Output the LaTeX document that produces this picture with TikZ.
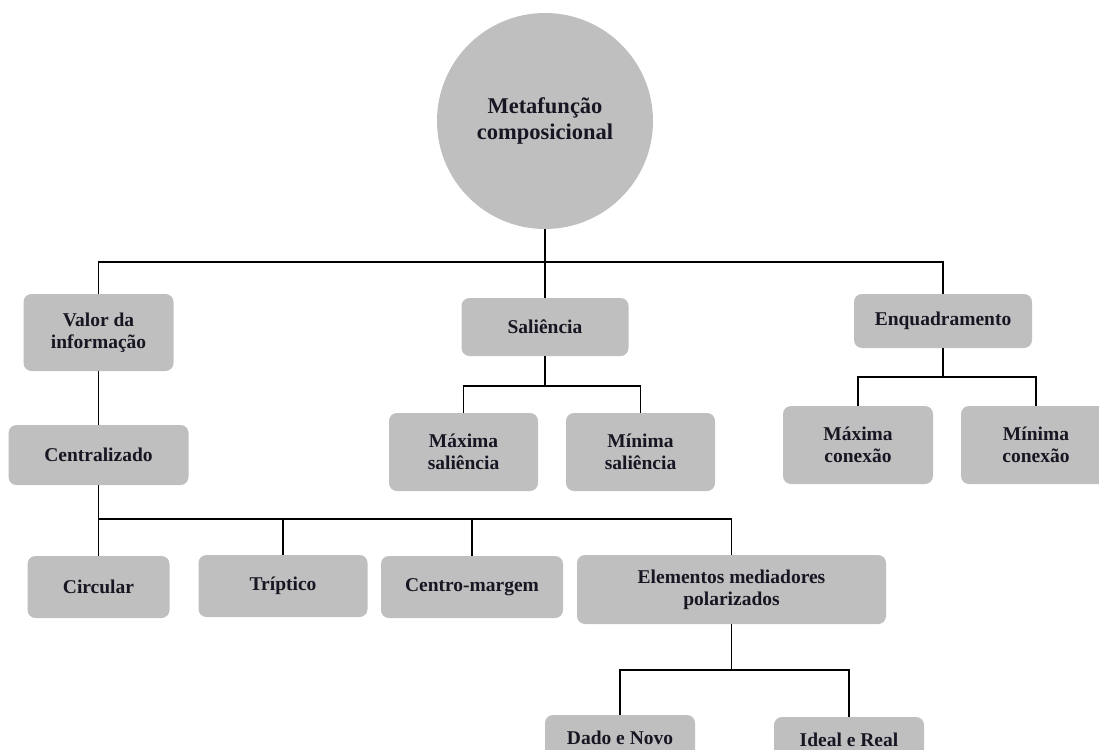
\documentclass[tikz,border=0pt]{standalone}
\usepackage{fontspec}
\setmainfont{Liberation Serif}
\definecolor{boxgray}{RGB}{191,191,191}
\definecolor{inkdark}{RGB}{24,22,34}
\begin{document}
\begin{tikzpicture}[x=1pt,y=-1pt,
  base/.style={fill=boxgray,draw=none,text=inkdark,inner sep=0pt,align=center,
    font=\bfseries\fontsize{19.5}{22}\selectfont},
  card/.style={base,rectangle,rounded corners=8pt},
  hub/.style={base,circle,font=\bfseries\fontsize{22.5}{26}\selectfont},
  link/.style={draw=black,line width=1.8pt}]
\useasboundingbox (0,0) rectangle (1099,749);
\clip (0,0) rectangle (1099,749);

% root
\node[hub,minimum size=216pt] (root) at (545,121) {Metafunção\\composicional};

% first level
\node[card,minimum width=150pt,minimum height=77pt] (valor) at (98.5,332.5) {Valor da\\informação};
\node[card,minimum width=167pt,minimum height=58pt] (sal) at (545,327) {Saliência};
\node[card,minimum width=178pt,minimum height=54pt] (enq) at (943,321) {Enquadramento};

% children of Saliência and Enquadramento
\node[card,minimum width=149pt,minimum height=78pt] (maxsal) at (463.5,452) {Máxima\\saliência};
\node[card,minimum width=149pt,minimum height=78pt] (minsal) at (640.5,452) {Mínima\\saliência};
\node[card,minimum width=150pt,minimum height=78pt] (maxcon) at (858,445) {Máxima\\conexão};
\node[card,minimum width=150pt,minimum height=78pt] (mincon) at (1036,445) {Mínima\\conexão};

% Valor da informação branch
\node[card,minimum width=180pt,minimum height=60pt] (central) at (98.5,455) {Centralizado};
\node[card,minimum width=142pt,minimum height=62pt] (circ) at (98.5,587) {Circular};
\node[card,minimum width=169pt,minimum height=62pt] (trip) at (283,586) {Tríptico};
\node[card,minimum width=182pt,minimum height=62pt] (cm) at (472,587) {Centro-margem};
\node[card,minimum width=309pt,minimum height=69pt] (elem) at (731.5,589.5) {Elementos mediadores\\polarizados};
\node[card,minimum width=150pt,minimum height=46pt] (dado) at (620,738) {Dado e Novo};
\node[card,minimum width=150pt,minimum height=46pt] (ideal) at (849,740) {Ideal e Real};

% bus lines
\coordinate (bus1) at (545,262);
\coordinate (bus2) at (545,386);
\coordinate (bus3) at (943,377);
\coordinate (bus4) at (98.5,519);
\coordinate (bus5) at (731.5,670);

\draw[link] (root.south) -- (sal.north);
\draw[link] (valor.north) |- (bus1) -| (enq.north);
\draw[link] (sal.south) -- (bus2);
\draw[link] (maxsal.north) |- (bus2) -| (minsal.north);
\draw[link] (enq.south) -- (bus3);
\draw[link] (maxcon.north) |- (bus3) -| (mincon.north);
\draw[link] (valor.south) -- (central.north);
\draw[link] (central.south) -- (bus4) -| (elem.north);
\draw[link] (bus4) -- (circ.north);
\draw[link] (bus4 -| trip.north) -- (trip.north);
\draw[link] (bus4 -| cm.north) -- (cm.north);
\draw[link] (elem.south) -- (bus5);
\draw[link] (dado.north) |- (bus5) -| (ideal.north);
\end{tikzpicture}
\end{document}
